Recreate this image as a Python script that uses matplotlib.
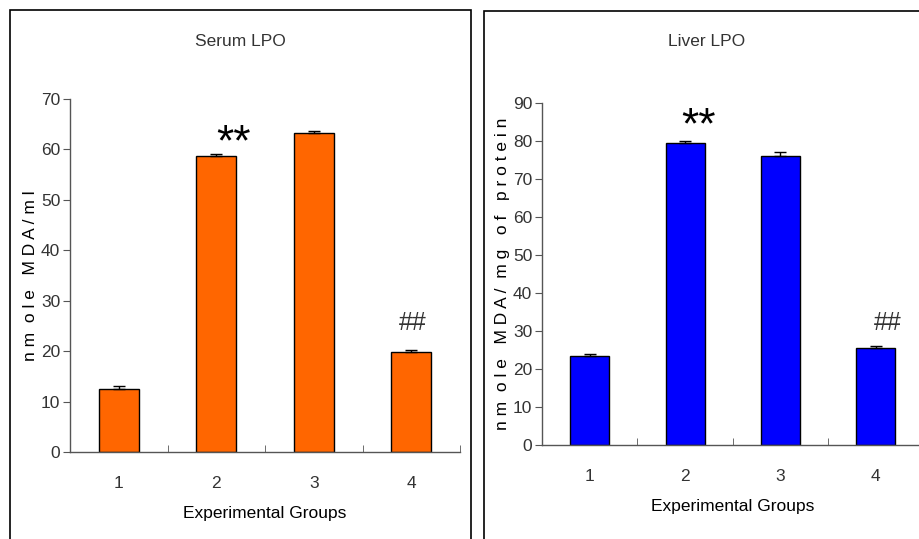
import matplotlib.pyplot as plt
from matplotlib.patches import Rectangle

groups = ["1", "2", "3", "4"]
serum_vals = [12.4, 58.75, 63.35, 19.75]
serum_err = [0.6, 0.35, 0.35, 0.4]
liver_vals = [23.5, 79.5, 76.0, 25.5]
liver_err = [0.5, 0.5, 1.0, 0.6]

plt.rcParams["font.family"] = ["Liberation Sans", "DejaVu Sans"]
plt.rcParams["text.color"] = "#333333"
plt.rcParams["xtick.labelcolor"] = "#333333"
plt.rcParams["ytick.labelcolor"] = "#333333"

fig = plt.figure(figsize=(9.2, 5.39), dpi=100)
W, H = 920, 539

def fbox(x0, y0, x1, y1):
    return [x0 / W, 1 - y1 / H, (x1 - x0) / W, (y1 - y0) / H]

# panel frames
for x0, y0, x1, y1 in [(10, 10, 471, 560), (484, 11, 960, 560)]:
    fig.patches.append(Rectangle((x0 / W, 1 - y1 / H), (x1 - x0) / W, (y1 - y0) / H,
                                 transform=fig.transFigure, fill=False,
                                 edgecolor="black", linewidth=1.2))

def panel(rect, vals, errs, color, ymax, step, title, ylabel, title_xy,
          star_pos, hash_pos):
    ax = fig.add_axes(fbox(*rect))
    x = range(len(vals))
    ax.bar(x, vals, width=0.41, color=color, edgecolor="black", linewidth=1.0)
    ax.errorbar(x, vals, yerr=[[0] * len(errs), errs], fmt="none",
                ecolor="black", elinewidth=1.0, capsize=4, capthick=1.0)
    ax.set_xlim(-0.5, len(vals) - 0.5)
    ax.set_ylim(0, ymax)
    ax.set_yticks(range(0, ymax + 1, step))
    ax.set_xticks(list(x))
    ax.set_xticklabels(groups)
    ax.set_xticks([i + 0.5 for i in x], minor=True)
    ax.tick_params(axis="x", which="major", length=0, pad=17, labelsize=12.5)
    ax.tick_params(axis="x", which="minor", direction="in", length=5, color="#555555")
    ax.tick_params(axis="y", direction="out", length=5, labelsize=12.5, color="#555555",
                   pad=2)
    for s in ["top", "right"]:
        ax.spines[s].set_visible(False)
    for s in ["left", "bottom"]:
        ax.spines[s].set_color("#555555")
        ax.spines[s].set_linewidth(1.0)
    ax.set_xlabel("Experimental Groups", fontsize=12.5, labelpad=11)
    ax.set_ylabel(ylabel, fontsize=12.5, labelpad=2)
    fig.text(title_xy[0] / W, 1 - title_xy[1] / H, title, ha="center", va="center",
             fontsize=12.5)
    ax.text(star_pos[0], star_pos[1], "**", ha="center", va="center", fontsize=32,
            color="black")
    ax.text(hash_pos[0], hash_pos[1], "##", ha="center", va="center", fontsize=18)
    return ax

panel((70, 99, 460, 452), serum_vals, serum_err, "#FF6600", 70, 10,
      "Serum LPO", "n m  o l e   M D A / m l", (240, 41),
      (1.18, 61.2), (3.02, 25.5))
panel((542, 103, 923.5, 445), liver_vals, liver_err, "#0000FF", 90, 10,
      "Liver LPO", "n m  o l e   M D A /  m g   o f   p r o t e i n", (707, 42),
      (1.14, 83.6), (3.12, 32.0))

fig.savefig("out.png", dpi=100)
